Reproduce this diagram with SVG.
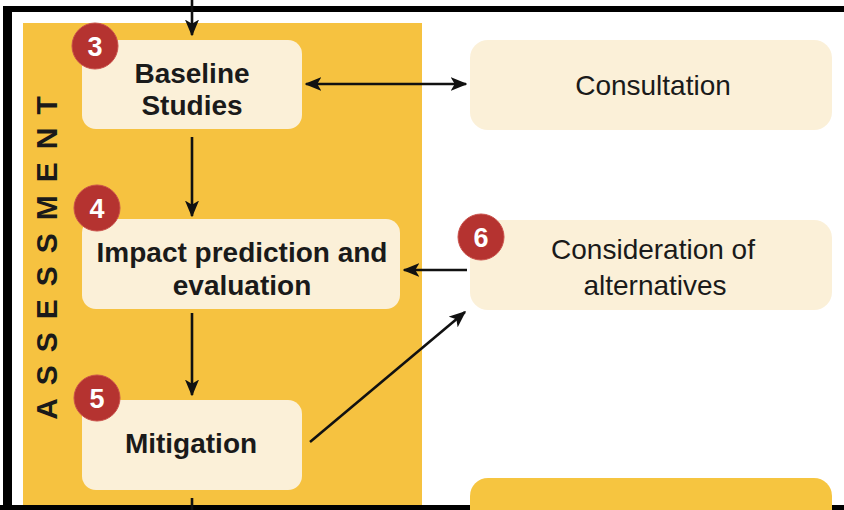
<svg xmlns="http://www.w3.org/2000/svg" width="844" height="510" viewBox="0 0 844 510">
<style>
.box{fill:#FBF0D8}
.badge{fill:#B53330;stroke:#C9504A;stroke-width:1}
.num{font-family:"Liberation Sans",Arial,sans-serif;font-weight:bold;font-size:27px;fill:#fff;text-anchor:middle}
.bt{font-family:"Liberation Sans",Arial,sans-serif;font-weight:bold;font-size:28px;fill:#1a1a1a;text-anchor:middle}
.rt{font-family:"Liberation Sans",Arial,sans-serif;font-size:28px;fill:#1a1a1a;text-anchor:middle}
.ln{stroke:#111;stroke-width:2.6;fill:none}
</style>
<defs>
<marker id="ah" viewBox="0 0 12 10" refX="11" refY="5" markerWidth="6.5" markerHeight="5.5" markerUnits="strokeWidth" orient="auto-start-reverse">
<path d="M0,0 L12,5 L0,10 L3,5 z" fill="#111"/>
</marker>
</defs>
<rect width="844" height="510" fill="#fff"/>
<rect id="panel" x="23" y="23" width="399" height="490" fill="#F6C240"/>
<rect x="3" y="6" width="9" height="504" fill="#000"/>
<rect x="3" y="6" width="841" height="6" fill="#000"/>
<rect x="0" y="505" width="844" height="5" fill="#000"/>
<text transform="translate(57,258) rotate(-90)" font-family="'Liberation Sans',Arial,sans-serif" font-weight="bold" font-size="30" fill="#1a1a1a" text-anchor="middle" letter-spacing="13" dx="6.5">ASSESSMENT</text>

<g id="connectors">
<line class="ln" x1="192" y1="0" x2="192" y2="35" marker-end="url(#ah)"/>
<line class="ln" x1="192" y1="137" x2="192" y2="216" marker-end="url(#ah)"/>
<line class="ln" x1="192" y1="313" x2="192" y2="395" marker-end="url(#ah)"/>
<line class="ln" x1="192" y1="498" x2="192" y2="510"/>
<line class="ln" x1="306" y1="84" x2="466" y2="84" marker-start="url(#ah)" marker-end="url(#ah)"/>
<line class="ln" x1="467" y1="270" x2="404" y2="270" marker-end="url(#ah)"/>
<line class="ln" x1="310" y1="442" x2="465" y2="312" marker-end="url(#ah)"/>
</g>

<g id="n3">
<rect class="box" x="82" y="40" width="220" height="89" rx="14"/>
<text class="bt" x="192" y="83">Baseline</text>
<text class="bt" x="192" y="115">Studies</text>
<circle class="badge" cx="95" cy="46" r="23"/>
<text class="num" x="95" y="55.5">3</text>
</g>
<g id="n4">
<rect class="box" x="82" y="219" width="318" height="90" rx="14"/>
<text class="bt" x="242" y="262">Impact prediction and</text>
<text class="bt" x="242" y="295">evaluation</text>
<circle class="badge" cx="97" cy="208" r="23"/>
<text class="num" x="97" y="217.5">4</text>
</g>
<g id="n5">
<rect class="box" x="82" y="400" width="220" height="90" rx="14"/>
<text class="bt" x="191" y="453">Mitigation</text>
<circle class="badge" cx="97" cy="398" r="23"/>
<text class="num" x="97" y="407.5">5</text>
</g>
<g id="consult">
<rect class="box" x="470" y="40" width="362" height="90" rx="18"/>
<text class="rt" x="653" y="95">Consultation</text>
</g>
<g id="n6">
<rect class="box" x="470" y="220" width="362" height="90" rx="18"/>
<text class="rt" x="653" y="259">Consideration of</text>
<text class="rt" x="655" y="295">alternatives</text>
<circle class="badge" cx="481" cy="237" r="23"/>
<text class="num" x="481" y="246.5">6</text>
</g>
<g id="bottom">
<rect x="470" y="478" width="362" height="60" rx="18" fill="#F6C540"/>
</g>
</svg>
